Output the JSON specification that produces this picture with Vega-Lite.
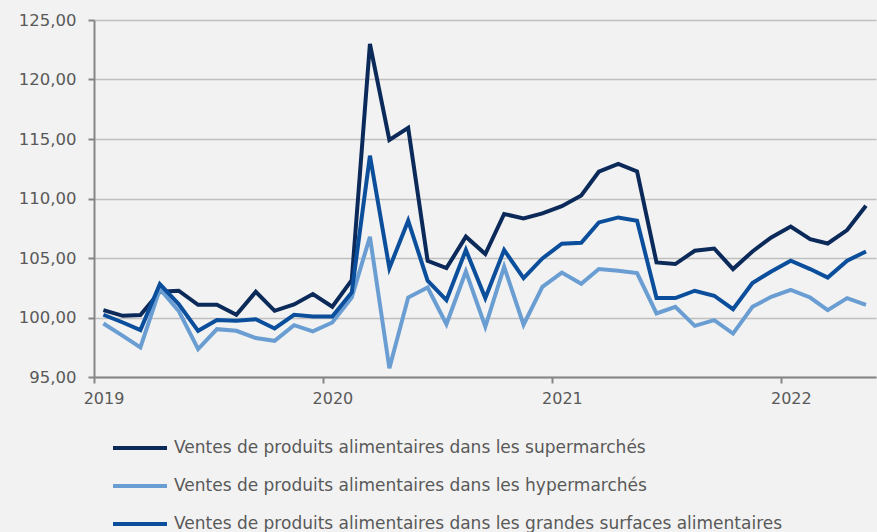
{
  "$schema": "https://vega.github.io/schema/vega-lite/v6.json",
  "width": 782,
  "height": 357,
  "autosize": "none",
  "padding": {"left": 94, "top": 20, "right": 1, "bottom": 155},
  "background": "#f2f2f2",
  "config": {"view": {"stroke": null}, "font": "DejaVu Sans"},
  "datasets": {
    "series": [
      {"date": "2019-01-16", "serie": "Ventes de produits alimentaires dans les supermarchés", "value": 100.62},
      {"date": "2019-02-16", "serie": "Ventes de produits alimentaires dans les supermarchés", "value": 100.14},
      {"date": "2019-03-16", "serie": "Ventes de produits alimentaires dans les supermarchés", "value": 100.2},
      {"date": "2019-04-16", "serie": "Ventes de produits alimentaires dans les supermarchés", "value": 102.16},
      {"date": "2019-05-16", "serie": "Ventes de produits alimentaires dans les supermarchés", "value": 102.25},
      {"date": "2019-06-16", "serie": "Ventes de produits alimentaires dans les supermarchés", "value": 101.07},
      {"date": "2019-07-16", "serie": "Ventes de produits alimentaires dans les supermarchés", "value": 101.07},
      {"date": "2019-08-16", "serie": "Ventes de produits alimentaires dans les supermarchés", "value": 100.23},
      {"date": "2019-09-16", "serie": "Ventes de produits alimentaires dans les supermarchés", "value": 102.16},
      {"date": "2019-10-16", "serie": "Ventes de produits alimentaires dans les supermarchés", "value": 100.56},
      {"date": "2019-11-16", "serie": "Ventes de produits alimentaires dans les supermarchés", "value": 101.1},
      {"date": "2019-12-16", "serie": "Ventes de produits alimentaires dans les supermarchés", "value": 101.97},
      {"date": "2020-01-16", "serie": "Ventes de produits alimentaires dans les supermarchés", "value": 100.9},
      {"date": "2020-02-16", "serie": "Ventes de produits alimentaires dans les supermarchés", "value": 103.14},
      {"date": "2020-03-16", "serie": "Ventes de produits alimentaires dans les supermarchés", "value": 123.0},
      {"date": "2020-04-16", "serie": "Ventes de produits alimentaires dans les supermarchés", "value": 114.92},
      {"date": "2020-05-16", "serie": "Ventes de produits alimentaires dans les supermarchés", "value": 115.93},
      {"date": "2020-06-16", "serie": "Ventes de produits alimentaires dans les supermarchés", "value": 104.77},
      {"date": "2020-07-16", "serie": "Ventes de produits alimentaires dans les supermarchés", "value": 104.15},
      {"date": "2020-08-16", "serie": "Ventes de produits alimentaires dans les supermarchés", "value": 106.79},
      {"date": "2020-09-16", "serie": "Ventes de produits alimentaires dans les supermarchés", "value": 105.33},
      {"date": "2020-10-16", "serie": "Ventes de produits alimentaires dans les supermarchés", "value": 108.7},
      {"date": "2020-11-16", "serie": "Ventes de produits alimentaires dans les supermarchés", "value": 108.33},
      {"date": "2020-12-16", "serie": "Ventes de produits alimentaires dans les supermarchés", "value": 108.75},
      {"date": "2021-01-16", "serie": "Ventes de produits alimentaires dans les supermarchés", "value": 109.35},
      {"date": "2021-02-16", "serie": "Ventes de produits alimentaires dans les supermarchés", "value": 110.25},
      {"date": "2021-03-16", "serie": "Ventes de produits alimentaires dans les supermarchés", "value": 112.25},
      {"date": "2021-04-16", "serie": "Ventes de produits alimentaires dans les supermarchés", "value": 112.9},
      {"date": "2021-05-16", "serie": "Ventes de produits alimentaires dans les supermarchés", "value": 112.28},
      {"date": "2021-06-16", "serie": "Ventes de produits alimentaires dans les supermarchés", "value": 104.63},
      {"date": "2021-07-16", "serie": "Ventes de produits alimentaires dans les supermarchés", "value": 104.49},
      {"date": "2021-08-16", "serie": "Ventes de produits alimentaires dans les supermarchés", "value": 105.61},
      {"date": "2021-09-16", "serie": "Ventes de produits alimentaires dans les supermarchés", "value": 105.8},
      {"date": "2021-10-16", "serie": "Ventes de produits alimentaires dans les supermarchés", "value": 104.07},
      {"date": "2021-11-16", "serie": "Ventes de produits alimentaires dans les supermarchés", "value": 105.55},
      {"date": "2021-12-16", "serie": "Ventes de produits alimentaires dans les supermarchés", "value": 106.73},
      {"date": "2022-01-16", "serie": "Ventes de produits alimentaires dans les supermarchés", "value": 107.65},
      {"date": "2022-02-16", "serie": "Ventes de produits alimentaires dans les supermarchés", "value": 106.59},
      {"date": "2022-03-16", "serie": "Ventes de produits alimentaires dans les supermarchés", "value": 106.22},
      {"date": "2022-04-16", "serie": "Ventes de produits alimentaires dans les supermarchés", "value": 107.35},
      {"date": "2022-05-16", "serie": "Ventes de produits alimentaires dans les supermarchés", "value": 109.39},

      {"date": "2019-01-16", "serie": "Ventes de produits alimentaires dans les hypermarchés", "value": 99.5},
      {"date": "2019-02-16", "serie": "Ventes de produits alimentaires dans les hypermarchés", "value": 98.46},
      {"date": "2019-03-16", "serie": "Ventes de produits alimentaires dans les hypermarchés", "value": 97.48},
      {"date": "2019-04-16", "serie": "Ventes de produits alimentaires dans les hypermarchés", "value": 102.39},
      {"date": "2019-05-16", "serie": "Ventes de produits alimentaires dans les hypermarchés", "value": 100.56},
      {"date": "2019-06-16", "serie": "Ventes de produits alimentaires dans les hypermarchés", "value": 97.34},
      {"date": "2019-07-16", "serie": "Ventes de produits alimentaires dans les hypermarchés", "value": 99.02},
      {"date": "2019-08-16", "serie": "Ventes de produits alimentaires dans les hypermarchés", "value": 98.88},
      {"date": "2019-09-16", "serie": "Ventes de produits alimentaires dans les hypermarchés", "value": 98.27},
      {"date": "2019-10-16", "serie": "Ventes de produits alimentaires dans les hypermarchés", "value": 98.04},
      {"date": "2019-11-16", "serie": "Ventes de produits alimentaires dans les hypermarchés", "value": 99.36},
      {"date": "2019-12-16", "serie": "Ventes de produits alimentaires dans les hypermarchés", "value": 98.84},
      {"date": "2020-01-16", "serie": "Ventes de produits alimentaires dans les hypermarchés", "value": 99.58},
      {"date": "2020-02-16", "serie": "Ventes de produits alimentaires dans les hypermarchés", "value": 101.68},
      {"date": "2020-03-16", "serie": "Ventes de produits alimentaires dans les hypermarchés", "value": 106.79},
      {"date": "2020-04-16", "serie": "Ventes de produits alimentaires dans les hypermarchés", "value": 95.74},
      {"date": "2020-05-16", "serie": "Ventes de produits alimentaires dans les hypermarchés", "value": 101.68},
      {"date": "2020-06-16", "serie": "Ventes de produits alimentaires dans les hypermarchés", "value": 102.52},
      {"date": "2020-07-16", "serie": "Ventes de produits alimentaires dans les hypermarchés", "value": 99.44},
      {"date": "2020-08-16", "serie": "Ventes de produits alimentaires dans les hypermarchés", "value": 103.87},
      {"date": "2020-09-16", "serie": "Ventes de produits alimentaires dans les hypermarchés", "value": 99.22},
      {"date": "2020-10-16", "serie": "Ventes de produits alimentaires dans les hypermarchés", "value": 104.26},
      {"date": "2020-11-16", "serie": "Ventes de produits alimentaires dans les hypermarchés", "value": 99.39},
      {"date": "2020-12-16", "serie": "Ventes de produits alimentaires dans les hypermarchés", "value": 102.58},
      {"date": "2021-01-16", "serie": "Ventes de produits alimentaires dans les hypermarchés", "value": 103.78},
      {"date": "2021-02-16", "serie": "Ventes de produits alimentaires dans les hypermarchés", "value": 102.83},
      {"date": "2021-03-16", "serie": "Ventes de produits alimentaires dans les hypermarchés", "value": 104.07},
      {"date": "2021-04-16", "serie": "Ventes de produits alimentaires dans les hypermarchés", "value": 103.93},
      {"date": "2021-05-16", "serie": "Ventes de produits alimentaires dans les hypermarchés", "value": 103.73},
      {"date": "2021-06-16", "serie": "Ventes de produits alimentaires dans les hypermarchés", "value": 100.34},
      {"date": "2021-07-16", "serie": "Ventes de produits alimentaires dans les hypermarchés", "value": 100.9},
      {"date": "2021-08-16", "serie": "Ventes de produits alimentaires dans les hypermarchés", "value": 99.3},
      {"date": "2021-09-16", "serie": "Ventes de produits alimentaires dans les hypermarchés", "value": 99.78},
      {"date": "2021-10-16", "serie": "Ventes de produits alimentaires dans les hypermarchés", "value": 98.65},
      {"date": "2021-11-16", "serie": "Ventes de produits alimentaires dans les hypermarchés", "value": 100.9},
      {"date": "2021-12-16", "serie": "Ventes de produits alimentaires dans les hypermarchés", "value": 101.74},
      {"date": "2022-01-16", "serie": "Ventes de produits alimentaires dans les hypermarchés", "value": 102.33},
      {"date": "2022-02-16", "serie": "Ventes de produits alimentaires dans les hypermarchés", "value": 101.68},
      {"date": "2022-03-16", "serie": "Ventes de produits alimentaires dans les hypermarchés", "value": 100.62},
      {"date": "2022-04-16", "serie": "Ventes de produits alimentaires dans les hypermarchés", "value": 101.63},
      {"date": "2022-05-16", "serie": "Ventes de produits alimentaires dans les hypermarchés", "value": 101.07},

      {"date": "2019-01-16", "serie": "Ventes de produits alimentaires dans les grandes surfaces alimentaires", "value": 100.23},
      {"date": "2019-02-16", "serie": "Ventes de produits alimentaires dans les grandes surfaces alimentaires", "value": 99.58},
      {"date": "2019-03-16", "serie": "Ventes de produits alimentaires dans les grandes surfaces alimentaires", "value": 98.94},
      {"date": "2019-04-16", "serie": "Ventes de produits alimentaires dans les grandes surfaces alimentaires", "value": 102.81},
      {"date": "2019-05-16", "serie": "Ventes de produits alimentaires dans les grandes surfaces alimentaires", "value": 101.13},
      {"date": "2019-06-16", "serie": "Ventes de produits alimentaires dans les grandes surfaces alimentaires", "value": 98.88},
      {"date": "2019-07-16", "serie": "Ventes de produits alimentaires dans les grandes surfaces alimentaires", "value": 99.78},
      {"date": "2019-08-16", "serie": "Ventes de produits alimentaires dans les grandes surfaces alimentaires", "value": 99.72},
      {"date": "2019-09-16", "serie": "Ventes de produits alimentaires dans les grandes surfaces alimentaires", "value": 99.86},
      {"date": "2019-10-16", "serie": "Ventes de produits alimentaires dans les grandes surfaces alimentaires", "value": 99.08},
      {"date": "2019-11-16", "serie": "Ventes de produits alimentaires dans les grandes surfaces alimentaires", "value": 100.23},
      {"date": "2019-12-16", "serie": "Ventes de produits alimentaires dans les grandes surfaces alimentaires", "value": 100.08},
      {"date": "2020-01-16", "serie": "Ventes de produits alimentaires dans les grandes surfaces alimentaires", "value": 100.08},
      {"date": "2020-02-16", "serie": "Ventes de produits alimentaires dans les grandes surfaces alimentaires", "value": 102.1},
      {"date": "2020-03-16", "serie": "Ventes de produits alimentaires dans les grandes surfaces alimentaires", "value": 113.6},
      {"date": "2020-04-16", "serie": "Ventes de produits alimentaires dans les grandes surfaces alimentaires", "value": 104.15},
      {"date": "2020-05-16", "serie": "Ventes de produits alimentaires dans les grandes surfaces alimentaires", "value": 108.13},
      {"date": "2020-06-16", "serie": "Ventes de produits alimentaires dans les grandes surfaces alimentaires", "value": 103.09},
      {"date": "2020-07-16", "serie": "Ventes de produits alimentaires dans les grandes surfaces alimentaires", "value": 101.46},
      {"date": "2020-08-16", "serie": "Ventes de produits alimentaires dans les grandes surfaces alimentaires", "value": 105.67},
      {"date": "2020-09-16", "serie": "Ventes de produits alimentaires dans les grandes surfaces alimentaires", "value": 101.63},
      {"date": "2020-10-16", "serie": "Ventes de produits alimentaires dans les grandes surfaces alimentaires", "value": 105.67},
      {"date": "2020-11-16", "serie": "Ventes de produits alimentaires dans les grandes surfaces alimentaires", "value": 103.31},
      {"date": "2020-12-16", "serie": "Ventes de produits alimentaires dans les grandes surfaces alimentaires", "value": 104.96},
      {"date": "2021-01-16", "serie": "Ventes de produits alimentaires dans les grandes surfaces alimentaires", "value": 106.2},
      {"date": "2021-02-16", "serie": "Ventes de produits alimentaires dans les grandes surfaces alimentaires", "value": 106.28},
      {"date": "2021-03-16", "serie": "Ventes de produits alimentaires dans les grandes surfaces alimentaires", "value": 107.99},
      {"date": "2021-04-16", "serie": "Ventes de produits alimentaires dans les grandes surfaces alimentaires", "value": 108.41},
      {"date": "2021-05-16", "serie": "Ventes de produits alimentaires dans les grandes surfaces alimentaires", "value": 108.13},
      {"date": "2021-06-16", "serie": "Ventes de produits alimentaires dans les grandes surfaces alimentaires", "value": 101.63},
      {"date": "2021-07-16", "serie": "Ventes de produits alimentaires dans les grandes surfaces alimentaires", "value": 101.63},
      {"date": "2021-08-16", "serie": "Ventes de produits alimentaires dans les grandes surfaces alimentaires", "value": 102.25},
      {"date": "2021-09-16", "serie": "Ventes de produits alimentaires dans les grandes surfaces alimentaires", "value": 101.83},
      {"date": "2021-10-16", "serie": "Ventes de produits alimentaires dans les grandes surfaces alimentaires", "value": 100.7},
      {"date": "2021-11-16", "serie": "Ventes de produits alimentaires dans les grandes surfaces alimentaires", "value": 102.89},
      {"date": "2021-12-16", "serie": "Ventes de produits alimentaires dans les grandes surfaces alimentaires", "value": 103.87},
      {"date": "2022-01-16", "serie": "Ventes de produits alimentaires dans les grandes surfaces alimentaires", "value": 104.77},
      {"date": "2022-02-16", "serie": "Ventes de produits alimentaires dans les grandes surfaces alimentaires", "value": 104.07},
      {"date": "2022-03-16", "serie": "Ventes de produits alimentaires dans les grandes surfaces alimentaires", "value": 103.36},
      {"date": "2022-04-16", "serie": "Ventes de produits alimentaires dans les grandes surfaces alimentaires", "value": 104.77},
      {"date": "2022-05-16", "serie": "Ventes de produits alimentaires dans les grandes surfaces alimentaires", "value": 105.55}
    ]
  },
  "data": {"name": "series"},
  "mark": {"type": "line", "strokeWidth": 4, "clip": false},
  "encoding": {
    "x": {
      "field": "date",
      "type": "temporal",
      "scale": {
        "type": "utc",
        "domain": [
          {"year": 2019, "month": 1, "date": 1, "utc": true},
          {"year": 2022, "month": 6, "date": 1, "utc": true}
        ]
      },
      "axis": {
        "title": null,
        "values": [
          {"year": 2019, "month": 1, "date": 1, "utc": true},
          {"year": 2020, "month": 1, "date": 1, "utc": true},
          {"year": 2021, "month": 1, "date": 1, "utc": true},
          {"year": 2022, "month": 1, "date": 1, "utc": true}
        ],
        "format": "%Y",
        "grid": false,
        "domainColor": "#868686",
        "domainWidth": 2,
        "tickColor": "#868686",
        "tickWidth": 2,
        "tickSize": 6,
        "labelFontSize": 16,
        "labelColor": "#595959",
        "labelOffset": 9.5,
        "labelPadding": 7,
        "labelFlush": false
      }
    },
    "y": {
      "field": "value",
      "type": "quantitative",
      "scale": {"domain": [95, 125], "nice": false, "zero": false},
      "axis": {
        "title": null,
        "values": [95, 100, 105, 110, 115, 120, 125],
        "labelExpr": "replace(format(datum.value, '.2f'), '.', ',')",
        "grid": true,
        "gridColor": "#bfbfbf",
        "gridWidth": 1.5,
        "domainColor": "#868686",
        "domainWidth": 2,
        "tickColor": "#868686",
        "tickWidth": 2,
        "tickSize": 6,
        "labelFontSize": 16.5,
        "labelColor": "#595959",
        "labelPadding": 12
      }
    },
    "color": {
      "field": "serie",
      "type": "nominal",
      "scale": {
        "domain": [
          "Ventes de produits alimentaires dans les supermarchés",
          "Ventes de produits alimentaires dans les hypermarchés",
          "Ventes de produits alimentaires dans les grandes surfaces alimentaires"
        ],
        "range": ["#0b2a5a", "#6a9ed3", "#0b4f9c"]
      },
      "legend": {
        "orient": "none",
        "legendX": 17,
        "legendY": 399,
        "direction": "vertical",
        "title": null,
        "symbolType": "stroke",
        "symbolSize": 2916,
        "symbolStrokeWidth": 4,
        "labelFontSize": 17,
        "labelColor": "#595959",
        "labelLimit": 0,
        "labelOffset": 5,
        "rowPadding": 1,
        "padding": 0
      }
    }
  }
}
